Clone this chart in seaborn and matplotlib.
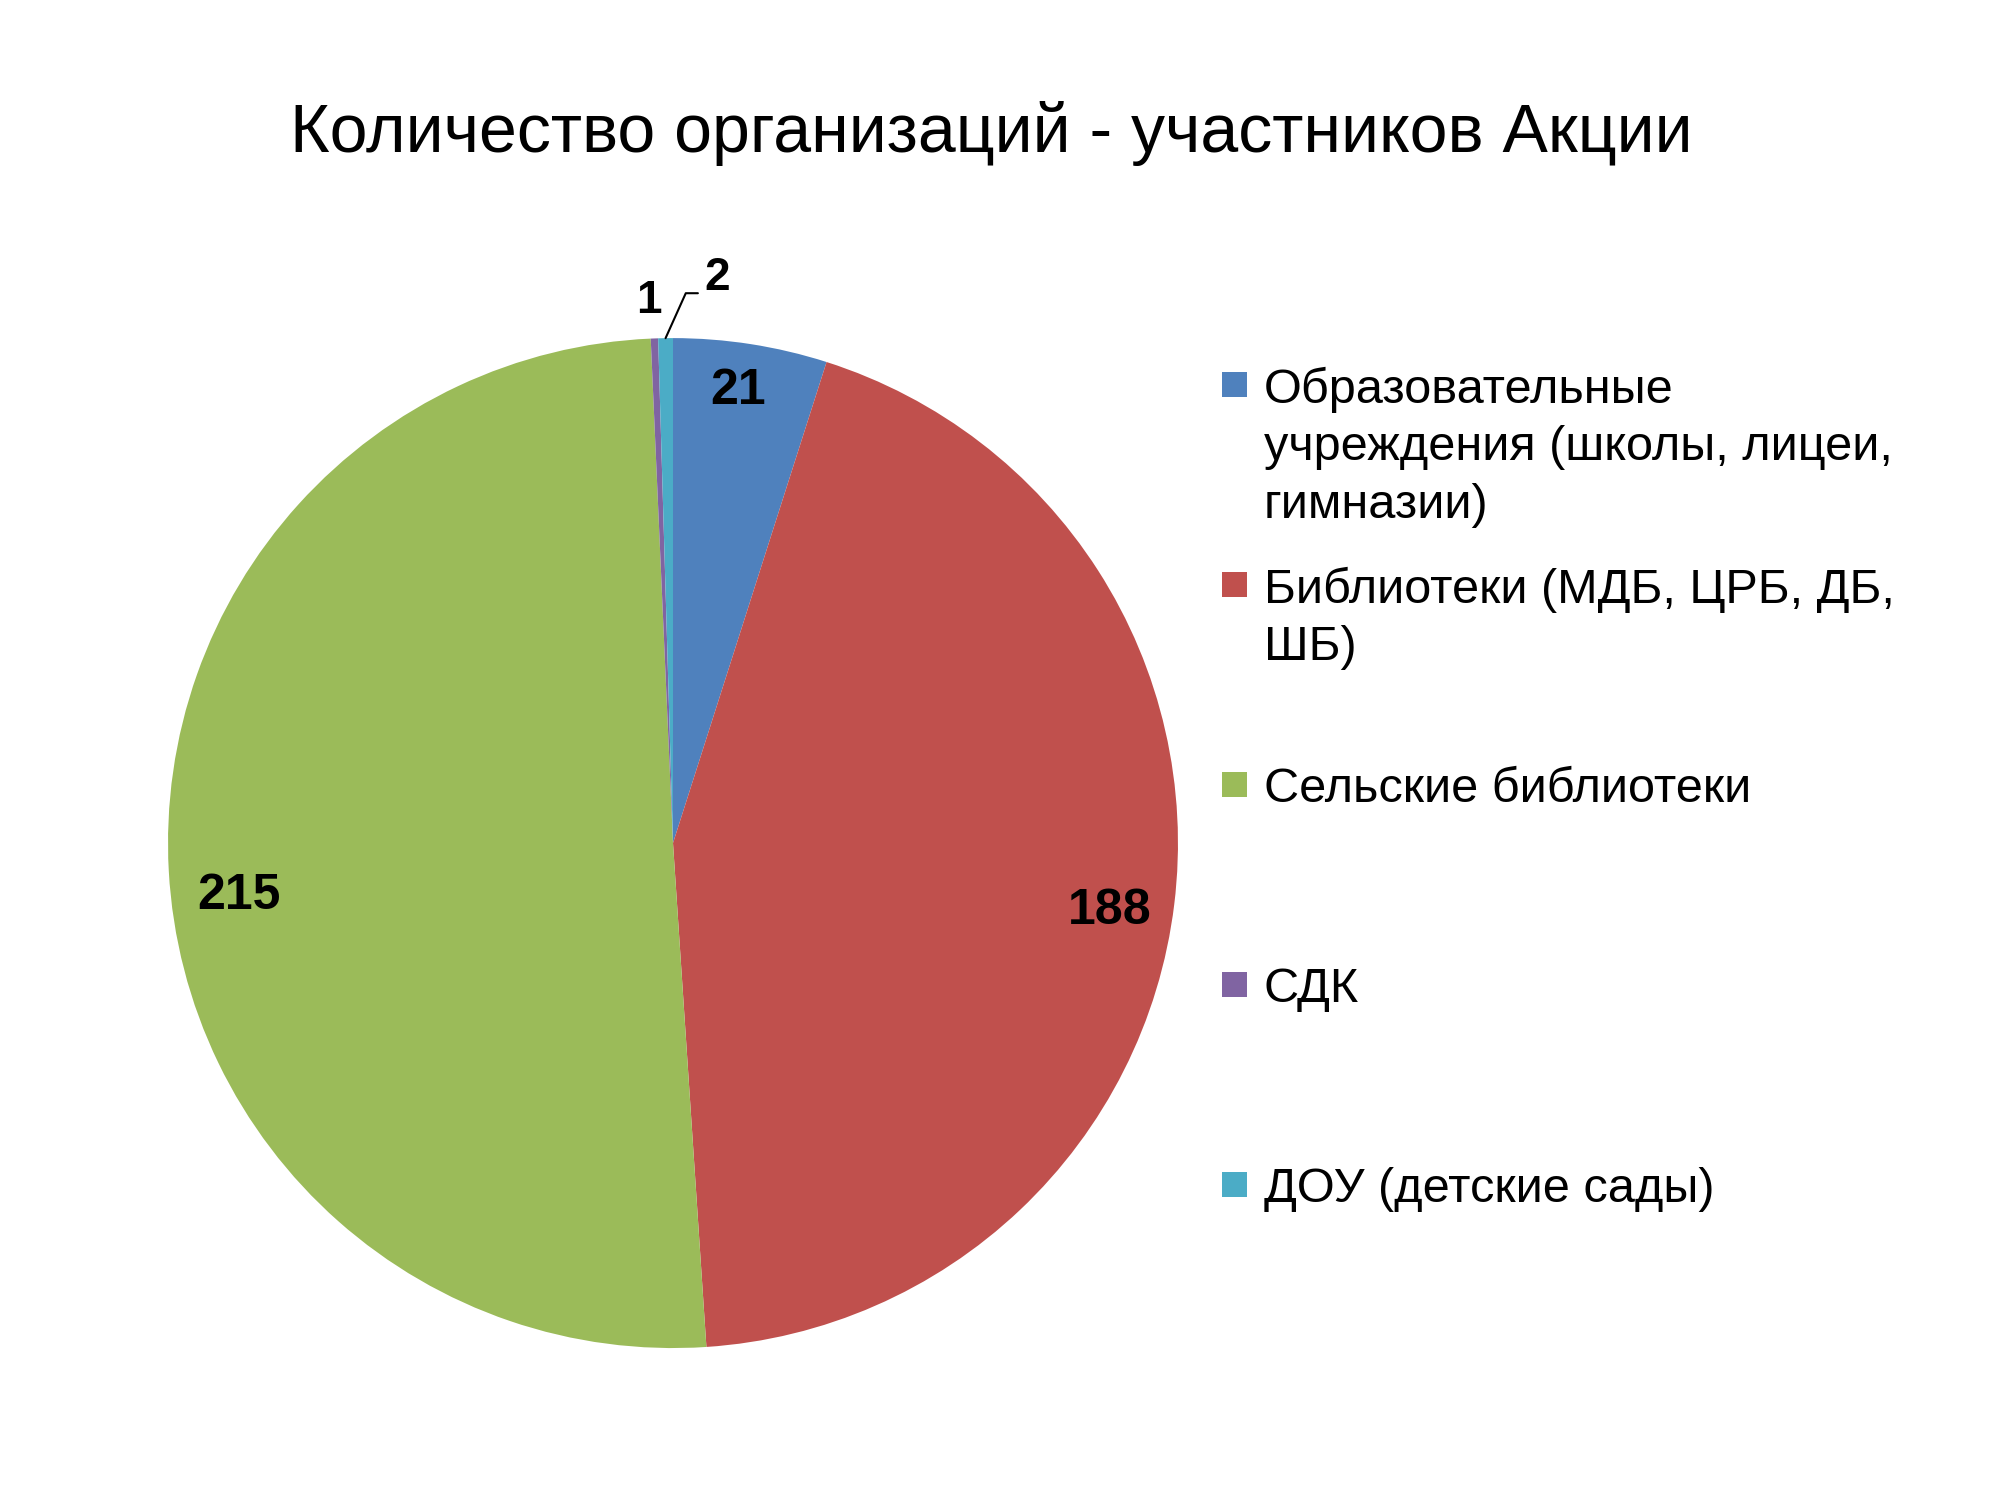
import numpy as np
import matplotlib
matplotlib.use("Agg")
import matplotlib.pyplot as plt
from matplotlib.patches import Rectangle
import seaborn as sns

# data
categories = [
    "Образовательные учреждения (школы, лицеи, гимназии)",
    "Библиотеки (МДБ, ЦРБ, ДБ, ШБ)",
    "Сельские библиотеки",
    "СДК",
    "ДОУ (детские сады)",
]
legend_labels = [
    "Образовательные\nучреждения (школы, лицеи,\nгимназии)",
    "Библиотеки (МДБ, ЦРБ, ДБ,\nШБ)",
    "Сельские библиотеки",
    "СДК",
    "ДОУ (детские сады)",
]
counts = [21, 188, 215, 1, 2]
colors = ["#4F81BD", "#C0504D", "#9BBB59", "#8064A2", "#4BACC6"]
title = "Количество организаций - участников Акции"

sns.set_theme(style="white")
plt.rcParams['font.family'] = ['Liberation Sans', 'DejaVu Sans']
plt.rcParams['text.color'] = 'black'
palette = sns.color_palette(colors)

W, H = 2000, 1500
fig = plt.figure(figsize=(20, 15), dpi=100)
fig.patch.set_facecolor("white")

# pie axes placed so the circle sits where it does in the reference
ax = fig.add_axes([0.084, 0.1013, 0.505, 0.6733])
wedges, _ = ax.pie(counts, colors=palette, startangle=90, counterclock=False,
                   radius=1.0, wedgeprops=dict(linewidth=0))
ax.set_xlim(-1, 1)
ax.set_ylim(-1, 1)
ax.set_aspect("equal")
ax.axis("off")

# data labels from the wedge angles
inner_r = [0.914, 0.874, 0.865]
inner_shift = [0.8, -1.3, 3.1]   # small angular nudges, degrees
for i, w in enumerate(wedges):
    mid_deg = (w.theta1 + w.theta2) / 2
    mid = np.deg2rad(mid_deg)
    if i < 3:
        a = np.deg2rad(mid_deg + inner_shift[i])
        r = inner_r[i]
        ax.text(r * np.cos(a), r * np.sin(a), str(counts[i]),
                ha="center", va="center_baseline", fontsize=36, fontweight="bold")
    elif i == 3:
        r = 1.05
        ax.text(r * np.cos(mid) - 0.01, r * np.sin(mid), str(counts[i]),
                ha="center", va="baseline", fontsize=33, fontweight="bold")
    else:
        # leader line for the tiny slice
        p0 = np.array([np.cos(mid), np.sin(mid)])
        p1 = p0 + np.array([0.040, 0.089])
        p2 = p1 + np.array([0.024, 0.0])
        ax.plot([p0[0], p1[0], p2[0]], [p0[1], p1[1], p2[1]],
                color="black", lw=1.5, clip_on=False)
        ax.text(p2[0] + 0.012, p2[1] + 0.006, str(counts[i]),
                ha="left", va="baseline", fontsize=33, fontweight="bold")

fig.text(0.4955, 1 - 152 / H, title, ha="center", va="baseline", fontsize=49)

# legend, marker lined up with the first line of each entry
leg_fs = 35
em = leg_fs * 100 / 72
x_marker = 1222 / W
x_text = 1264 / W
y0 = 402
step = 200
sq = 25
for i, lab in enumerate(legend_labels):
    base = y0 + i * step
    fig.add_artist(Rectangle((x_marker, 1 - (base - 5) / H), sq / W, sq / H,
                             transform=fig.transFigure, facecolor=palette[i],
                             edgecolor="none"))
    fig.text(x_text, 1 - (base - 0.73 * em) / H, lab, ha="left", va="top",
             fontsize=leg_fs, linespacing=1.36)

fig.savefig("out.png", dpi=100, facecolor="white")
